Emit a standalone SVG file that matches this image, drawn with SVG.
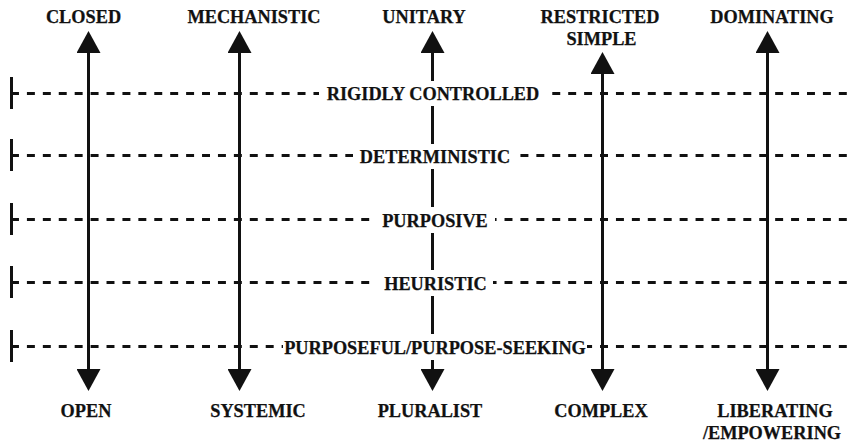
<svg xmlns="http://www.w3.org/2000/svg" width="850" height="445" viewBox="0 0 850 445">
  <defs>
    <style>
      .lbl { font-family: "Liberation Serif", "Times New Roman", serif; font-weight: bold; font-size: 18.3px; fill: #111; stroke: #111; stroke-width: 0.25; text-anchor: middle; }
      .guide { stroke: #111; stroke-width: 3; stroke-dasharray: 7.96 7.96; fill: none; }
      .tick { stroke: #111; stroke-width: 3; fill: none; }
      .axis { stroke: #111; stroke-width: 3; fill: none; marker-start: url(#head); marker-end: url(#head); }
      .bg { fill: #fff; }
    </style>
    <!-- solid triangular arrowhead, reversed at the start of each axis -->
    <marker id="head" viewBox="0 0 22 24" refX="0" refY="12" markerWidth="22" markerHeight="24" markerUnits="userSpaceOnUse" orient="auto-start-reverse">
      <path d="M0,0 L22,12 L0,24 Z" fill="#111"/>
    </marker>
  </defs>

  <rect width="850" height="445" fill="#fff"/>

  <!-- horizontal dashed levels with their left end ticks -->
  <g id="levels">
    <line class="guide" x1="11" y1="93.5" x2="850" y2="93.5"/>
    <line class="guide" x1="11" y1="155.5" x2="850" y2="155.5"/>
    <line class="guide" x1="11" y1="219.5" x2="850" y2="219.5"/>
    <line class="guide" x1="11" y1="282.5" x2="850" y2="282.5"/>
    <line class="guide" x1="11" y1="346.5" x2="850" y2="346.5"/>
    <line class="tick" x1="11.5" y1="77" x2="11.5" y2="109"/>
    <line class="tick" x1="11.5" y1="139" x2="11.5" y2="171"/>
    <line class="tick" x1="11.5" y1="203" x2="11.5" y2="235"/>
    <line class="tick" x1="11.5" y1="266" x2="11.5" y2="298"/>
    <line class="tick" x1="11.5" y1="330" x2="11.5" y2="362"/>
  </g>

  <!-- double-headed axes -->
  <g id="connectors">
    <line class="axis" x1="88.5" y1="53" x2="88.5" y2="369"/>
    <line class="axis" x1="239.5" y1="53" x2="239.5" y2="369"/>
    <line class="axis" x1="432.5" y1="53" x2="432.5" y2="369"/>
    <line class="axis" x1="602.5" y1="74" x2="602.5" y2="369"/>
    <line class="axis" x1="767.5" y1="53" x2="767.5" y2="369"/>
  </g>

  <!-- axis end labels -->
  <g id="closed"><text class="lbl" x="83.5" y="23">CLOSED</text></g>
  <g id="open"><text class="lbl" x="86" y="417">OPEN</text></g>
  <g id="mechanistic"><text class="lbl" x="254" y="23">MECHANISTIC</text></g>
  <g id="systemic"><text class="lbl" x="258" y="417">SYSTEMIC</text></g>
  <g id="unitary"><text class="lbl" x="424" y="23">UNITARY</text></g>
  <g id="pluralist"><text class="lbl" x="430" y="417">PLURALIST</text></g>
  <g id="restricted-simple">
    <text class="lbl" x="600" y="23">RESTRICTED</text>
    <text class="lbl" x="601.5" y="45">SIMPLE</text>
  </g>
  <g id="complex"><text class="lbl" x="601" y="417">COMPLEX</text></g>
  <g id="dominating"><text class="lbl" x="772" y="23">DOMINATING</text></g>
  <g id="liberating">
    <text class="lbl" x="775" y="417">LIBERATING</text>
    <text class="lbl" x="772" y="439">/EMPOWERING</text>
  </g>

  <!-- level labels, each on a white plate that breaks the dashes and the central axis -->
  <g id="rigidly-controlled">
    <rect class="bg" x="319" y="81" width="228" height="25"/>
    <text class="lbl" x="433" y="100">RIGIDLY CONTROLLED</text>
  </g>
  <g id="deterministic">
    <rect class="bg" x="353" y="144" width="164" height="25"/>
    <text class="lbl" x="435" y="163">DETERMINISTIC</text>
  </g>
  <g id="purposive">
    <rect class="bg" x="375" y="207" width="120" height="26"/>
    <text class="lbl" x="435" y="227">PURPOSIVE</text>
  </g>
  <g id="heuristic">
    <rect class="bg" x="377" y="270" width="116" height="26"/>
    <text class="lbl" x="435.5" y="290">HEURISTIC</text>
  </g>
  <g id="purposeful">
    <rect class="bg" x="283" y="334" width="304" height="26"/>
    <text class="lbl" x="435" y="354">PURPOSEFUL/PURPOSE-SEEKING</text>
  </g>
</svg>
